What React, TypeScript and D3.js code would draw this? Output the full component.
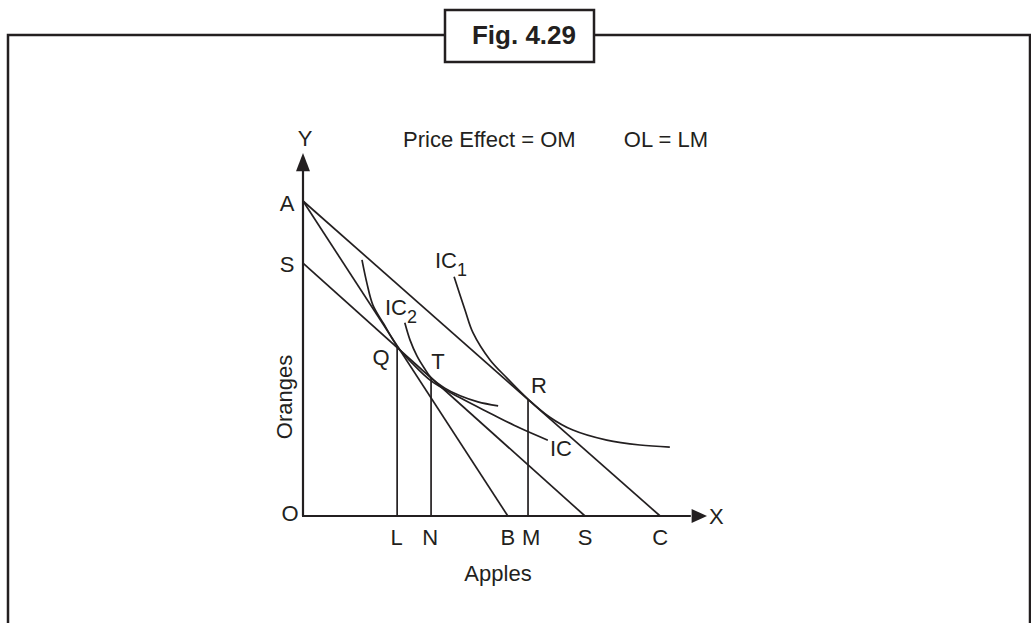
import { useRef, useEffect } from "react";
import * as d3 from "d3";

// budget line intercepts (apples on x, oranges on y)
const interceptA = 78.1;
const interceptS = 62.7;
const interceptB = 50.7;
const interceptS2 = 69.8;
const interceptC = 88.4;

// equilibrium points Q, T, R
const pointNames = ["Q", "T", "R"];
const pointX = [23.3, 31.7, 55.7];
const pointY = [42.1, 34.3, 29.0];

// x-axis labels
const xLabels = ["L", "N", "B", "M", "S", "C"];
const xLabelValues = [23.2, 31.5, 50.7, 56.5, 69.8, 88.4];

// indifference curves
const ic1X = [37.4, 40.1, 42.1, 46.3, 50.5, 55.7, 61.1, 66.8, 75.2, 83.4, 90.8];
const ic1Y = [59.3, 51.1, 45.4, 38.7, 34.2, 29.0, 24.5, 21.3, 18.8, 17.6, 17.1];
const icX = [14.6, 15.8, 17.3, 20.0, 23.3, 27.0, 31.7, 38.9, 46.3, 53.7, 60.6];
const icY = [63.5, 57.8, 52.3, 47.6, 42.1, 37.9, 33.5, 29.3, 25.5, 21.8, 18.8];
const ic2X = [25.2, 26.5, 28.2, 30.0, 31.7, 35.1, 38.9, 43.3, 48.3];
const ic2Y = [47.9, 43.6, 39.7, 36.7, 34.3, 31.7, 29.8, 28.3, 27.3];

const W = 1031;
const H = 623;
const ink = "#231f20";
const font = "'Liberation Sans', Arial, sans-serif";
const fs = 22;

function Figure() {
    const svgRef = useRef<SVGSVGElement>(null);

    useEffect(() => {
        const svg = d3.select(svgRef.current as SVGSVGElement);
        svg.selectAll("*").remove();

        // frame + title box
        svg.append("path")
            .attr("d", `M8,${H + 5} L8,35 L1030,35 L1030,${H + 5}`)
            .attr("fill", "none").attr("stroke", ink).attr("stroke-width", 2.5);
        svg.append("rect")
            .attr("x", 445).attr("y", 10).attr("width", 149).attr("height", 52)
            .attr("fill", "white").attr("stroke", ink).attr("stroke-width", 2.5);
        svg.append("text")
            .attr("x", 524).attr("y", 44)
            .attr("text-anchor", "middle")
            .attr("font-family", font).attr("font-weight", "bold").attr("font-size", 26)
            .attr("fill", ink)
            .text("Fig. 4.29");

        const x = d3.scaleLinear().domain([0, 100]).range([303, 707]);
        const y = d3.scaleLinear().domain([0, 90]).range([516, 153]);

        const g = svg.append("g");

        // axes
        g.append("line")
            .attr("x1", x(0)).attr("y1", y(0)).attr("x2", x(0)).attr("y2", y(86))
            .attr("stroke", ink).attr("stroke-width", 2.2);
        g.append("line")
            .attr("x1", x(0) - 1).attr("y1", y(0)).attr("x2", x(96)).attr("y2", y(0))
            .attr("stroke", ink).attr("stroke-width", 2.2);
        g.append("path")
            .attr("d", `M${x(0)},${y(90)} L${x(0) - 7},${y(85.5)} L${x(0) + 7},${y(85.5)} Z`)
            .attr("fill", ink);
        g.append("path")
            .attr("d", `M${x(100)},${y(0)} L${x(96.2)},${y(0) - 7} L${x(96.2)},${y(0) + 7} Z`)
            .attr("fill", ink);

        const line = d3.line<[number, number]>().x(d => x(d[0])).y(d => y(d[1]));

        // budget lines
        const budgets: [number, number][][] = [
            [[0, interceptA], [interceptC, 0]],
            [[0, interceptA], [interceptB, 0]],
            [[0, interceptS], [interceptS2, 0]],
        ];
        g.selectAll("path.budget")
            .data(budgets)
            .join("path")
            .attr("class", "budget")
            .attr("d", d => line(d))
            .attr("fill", "none").attr("stroke", ink).attr("stroke-width", 1.7);

        // indifference curves
        const curve = d3.line<[number, number]>()
            .x(d => x(d[0])).y(d => y(d[1]))
            .curve(d3.curveCatmullRom.alpha(0.5));
        const curves: [number, number][][] = [
            ic1X.map((v, i) => [v, ic1Y[i]]),
            icX.map((v, i) => [v, icY[i]]),
            ic2X.map((v, i) => [v, ic2Y[i]]),
        ];
        g.selectAll("path.ic")
            .data(curves)
            .join("path")
            .attr("class", "ic")
            .attr("d", d => curve(d))
            .attr("fill", "none").attr("stroke", ink).attr("stroke-width", 1.7);

        // drop lines
        g.selectAll("line.drop")
            .data(pointX)
            .join("line")
            .attr("class", "drop")
            .attr("x1", d => x(d)).attr("x2", d => x(d))
            .attr("y1", y(0)).attr("y2", (d, i) => y(pointY[i]))
            .attr("stroke", ink).attr("stroke-width", 1.7);

        const label = (tx: number, ty: number, s: string, anchor = "middle", size = fs) =>
            g.append("text")
                .attr("x", tx).attr("y", ty)
                .attr("text-anchor", anchor)
                .attr("font-family", font).attr("font-size", size)
                .attr("fill", ink)
                .text(s);

        // x labels
        xLabels.forEach((s, i) => label(x(xLabelValues[i]), 545, s));

        // intercept labels
        label(x(0) - 16, y(interceptA) + 10, "A");
        label(x(0) - 16, y(interceptS) + 9, "S");
        label(x(0) - 13, y(0) + 5, "O");
        label(x(100) + 2, y(0) + 8, "X", "start");
        label(x(0) + 2, 146, "Y");

        // point labels
        const offsets: [number, number][] = [[-16, 19], [7, -9], [11, -6]];
        pointNames.forEach((s, i) =>
            label(x(pointX[i]) + offsets[i][0], y(pointY[i]) + offsets[i][1], s));

        // curve labels
        const icLabel = (tx: number, ty: number, sub: string) => {
            const t = g.append("text")
                .attr("x", tx).attr("y", ty)
                .attr("font-family", font).attr("font-size", fs)
                .attr("fill", ink);
            t.append("tspan").text("IC");
            if (sub) t.append("tspan").attr("dy", 8).attr("font-size", 18).text(sub);
        };
        icLabel(435, 268, "1");
        icLabel(385, 315, "2");
        icLabel(550, 456, "");

        // axis titles
        label(498, 581, "Apples");
        g.append("text")
            .attr("transform", `translate(292,397) rotate(-90)`)
            .attr("text-anchor", "middle")
            .attr("font-family", font).attr("font-size", fs)
            .attr("fill", ink)
            .text("Oranges");

        // note
        label(403, 147, "Price Effect = OM", "start");
        label(708, 147, "OL = LM", "end");
    }, []);

    return <svg ref={svgRef} width={W} height={H}
        style={{ display: "block", position: "absolute", left: 0, top: 0, background: "white" }} />;
}

export default function App() {
    return <Figure />;
}
